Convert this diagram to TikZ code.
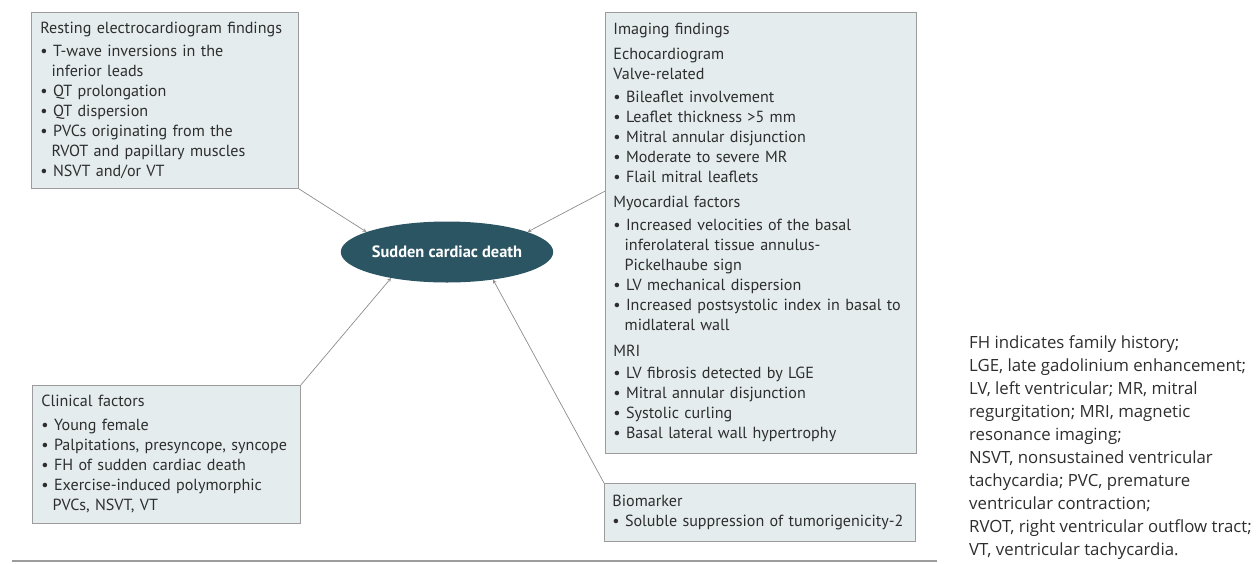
\documentclass[tikz,border=0pt]{standalone}
\usepackage{fontspec}
\setmainfont{PT Sans}
\newfontfamily\notefont{Open Sans}
\usepackage{xcolor}
\usetikzlibrary{shapes.geometric, positioning, calc}

\definecolor{boxfill}{HTML}{E4ECEE}
\definecolor{boxline}{HTML}{9C9C9C}
\definecolor{scdfill}{HTML}{2C5563}
\definecolor{txtgray}{HTML}{2E2E2E}
\definecolor{arrgray}{HTML}{8C8C8C}

\newcommand{\bl}{\textbullet\ }
\newcommand{\ind}{\hspace*{0.7em}}

\begin{document}
\begin{tikzpicture}[>=stealth, x=1pt, y=-1pt]
    \tikzset{
        findbox/.style={draw=boxline, fill=boxfill, line width=0.8pt, anchor=north west,
            align=left, inner xsep=9pt, inner ysep=0pt, text=txtgray,
            font=\fontsize{16.1}{20}\selectfont},
        widebox/.style={findbox, inner xsep=8pt, text width=295pt},
        link/.style={->, draw=arrgray, line width=0.7pt}
    }
    \useasboundingbox (0,0) rectangle (1257,563);

    % centre
    \node[ellipse, fill=scdfill, minimum width=175pt, minimum height=61pt, inner sep=0pt,
        text=white, font=\bfseries\fontsize{16.4}{18}\selectfont] (scd) at (447,252) {Sudden cardiac death};

    % four groups of findings
    \node[findbox, text width=249pt, minimum height=176pt] (ecg) at (31,12) {%
        Resting electrocardiogram findings\\[3pt]
        \bl T-wave inversions in the\\
        \ind inferior leads\\
        \bl QT prolongation\\
        \bl QT dispersion\\
        \bl PVCs originating from the\\
        \ind RVOT and papillary muscles\\
        \bl NSVT and/or VT};

    \node[widebox, minimum height=441pt] (imaging) at (605,12) {%
        Imaging findings\\[5pt]
        Echocardiogram\\
        Valve-related\\[3pt]
        \bl Bileaflet involvement\\
        \bl Leaflet thickness >5 mm\\
        \bl Mitral annular disjunction\\
        \bl Moderate to severe MR\\
        \bl Flail mitral leaflets\\[5pt]
        Myocardial factors\\[3pt]
        \bl Increased velocities of the basal\\
        \ind inferolateral tissue annulus-\\
        \ind Pickelhaube sign\\
        \bl LV mechanical dispersion\\
        \bl Increased postsystolic index in basal to\\
        \ind midlateral wall\\[6pt]
        MRI\\[2pt]
        \bl LV fibrosis detected by LGE\\
        \bl Mitral annular disjunction\\
        \bl Systolic curling\\
        \bl Basal lateral wall hypertrophy};

    \node[findbox, text width=250pt, minimum height=138pt] (clinical) at (32,385) {%
        Clinical factors\\[4pt]
        \bl Young female\\
        \bl Palpitations, presyncope, syncope\\
        \bl FH of sudden cardiac death\\
        \bl Exercise-induced polymorphic\\
        \ind PVCs, NSVT, VT};

    \node[widebox, minimum height=58pt] (biomarker) at (604,483) {%
        Biomarker\\
        \bl \mbox{Soluble suppression of tumorigenicity-2}};

    % arrows into the centre
    \draw[link] (ecg.south east) -- (scd.166);
    \draw[link] (imaging.165) -- (scd.14);
    \draw[link] (clinical.north east) -- (scd.205);
    \draw[link] (biomarker.north west) -- (scd.329);

    % abbreviations
    \node[anchor=north west, align=left, inner sep=0pt, text=txtgray,
        font=\notefont\fontsize{16.8}{23}\selectfont] (notes) at (969,335) {%
        FH indicates family history;\\
        LGE, late gadolinium enhancement;\\
        LV, left ventricular; MR, mitral\\
        regurgitation; MRI, magnetic\\
        resonance imaging;\\
        NSVT, nonsustained ventricular\\
        tachycardia; PVC, premature\\
        ventricular contraction;\\
        RVOT, right ventricular outflow tract;\\
        VT, ventricular tachycardia.};

    \draw[boxline, line width=1.2pt] (12,561) -- (937,561);
\end{tikzpicture}
\end{document}
